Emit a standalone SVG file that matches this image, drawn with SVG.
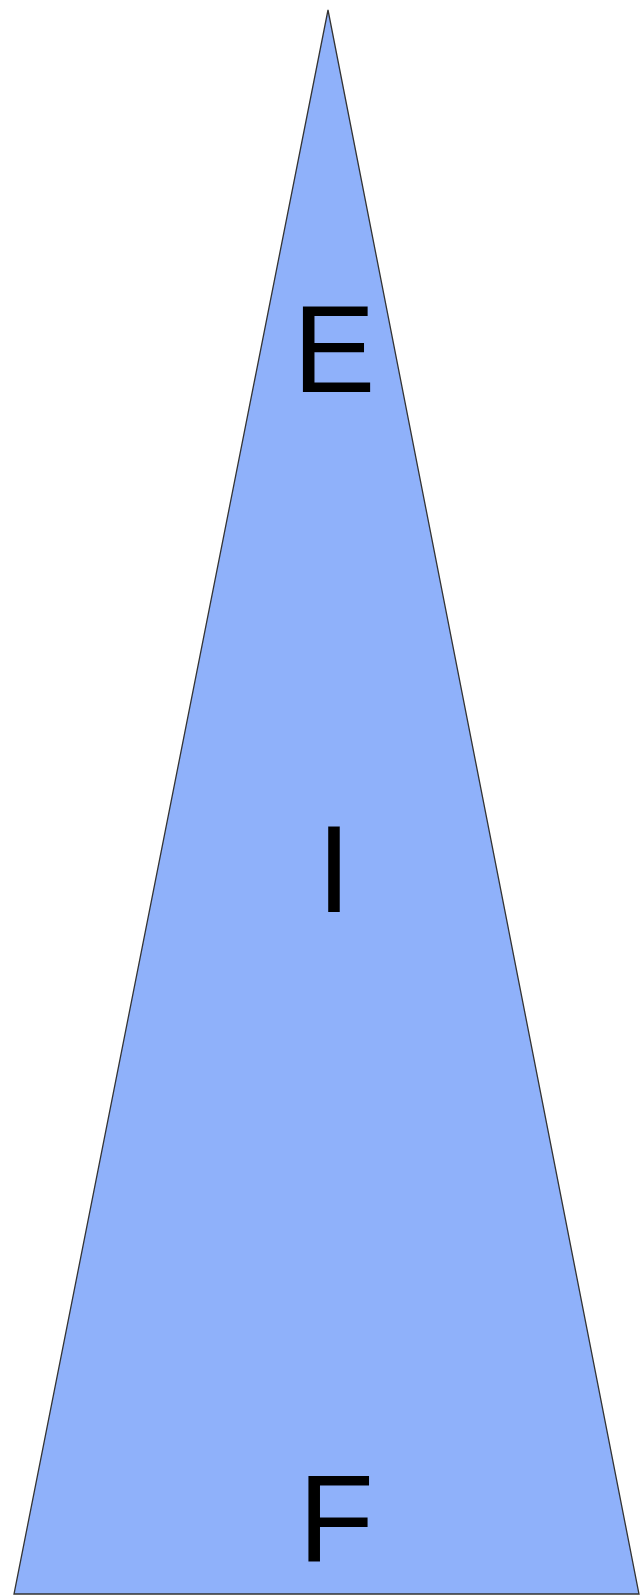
<svg xmlns="http://www.w3.org/2000/svg" width="642" height="1596" viewBox="0 0 642 1596">
<style>
.lbl{font-family:"Liberation Sans",Arial,sans-serif;font-size:124px;fill:#000;text-anchor:middle}
</style>
<rect width="642" height="1596" fill="#fff"/>
<g id="triangle">
<polygon points="328,10 639,1594 14,1594" fill="#8fb1fa" stroke="#333" stroke-width="1.3" stroke-linejoin="miter"/>
<text class="lbl" x="334" y="392">E</text>
<text class="lbl" x="334" y="912">I</text>
<text class="lbl" x="336" y="1562">F</text>
</g>
</svg>
